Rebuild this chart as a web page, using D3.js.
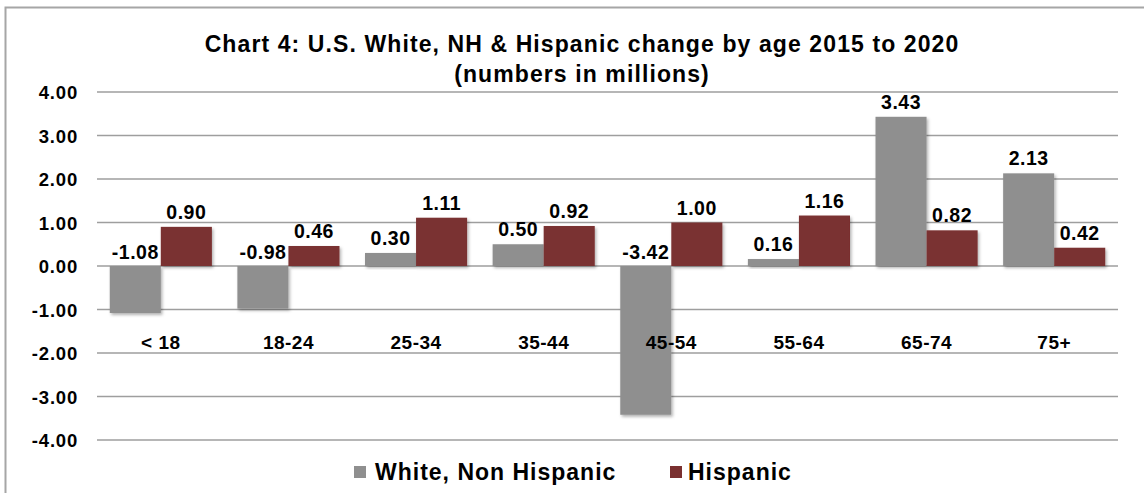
<!DOCTYPE html>
<html>
<head>
<meta charset="utf-8">
<script src="https://cdn.jsdelivr.net/npm/d3@7"></script>
<style>
  body { margin: 0; background: #fff; }
  text { font-family: Arial, "Liberation Sans", sans-serif; font-weight: bold; fill: #000; }
</style>
</head>
<body>
<svg id="chart" width="1144" height="493"></svg>
<script>
var categories = ["< 18", "18-24", "25-34", "35-44", "45-54", "55-64", "65-74", "75+"];
var whiteNH = [-1.08, -0.98, 0.30, 0.50, -3.42, 0.16, 3.43, 2.13];
var hispanic = [0.90, 0.46, 1.11, 0.92, 1.00, 1.16, 0.82, 0.42];
var seriesNames = ["White, Non Hispanic", "Hispanic"];
var seriesColors = ["#8f8f8f", "#7a3030"];
var yTicks = [4, 3, 2, 1, 0, -1, -2, -3, -4];

// hyphen instead of unicode minus, like the original
var fmt = function(v){ return d3.format(".2f")(v).replace("\u2212", "-"); };

var svg = d3.select("#chart");

// outer frame
svg.append("rect")
  .attr("x", 5.5).attr("y", 7.5)
  .attr("width", 1150).attr("height", 500)
  .attr("fill", "none").attr("stroke", "#a6a6a6").attr("stroke-width", 2);

// shadow filter for bars
var defs = svg.append("defs");
var f = defs.append("filter").attr("id", "shadow").attr("x", "-20%").attr("y", "-20%").attr("width", "150%").attr("height", "150%");
f.append("feDropShadow").attr("dx", 1.5).attr("dy", 2).attr("stdDeviation", 1.5).attr("flood-color", "#000").attr("flood-opacity", 0.3);

var y = d3.scaleLinear().domain([-4, 4]).range([440, 92]);
var x0 = d3.scaleBand().domain(categories).range([97, 1118]).paddingInner(0.2).paddingOuter(0.1);
var x1 = d3.scaleBand().domain([0, 1]).range([0, x0.bandwidth()]);

// title
svg.append("text").attr("x", 582).attr("y", 52).attr("text-anchor", "middle")
  .style("font-size", "23px").style("letter-spacing", "1.1px")
  .text("Chart 4: U.S. White, NH & Hispanic change by age 2015 to 2020");
svg.append("text").attr("x", 582).attr("y", 82).attr("text-anchor", "middle")
  .style("font-size", "23px").style("letter-spacing", "1.1px")
  .text("(numbers in millions)");

// gridlines
svg.append("g").selectAll("line").data(yTicks).enter().append("line")
  .attr("x1", 97).attr("x2", 1118)
  .attr("y1", function(d){ return y(d); }).attr("y2", function(d){ return y(d); })
  .attr("stroke", "#9e9e9e").attr("stroke-width", 1.5);

// y tick labels
svg.append("g").selectAll("text").data(yTicks).enter().append("text")
  .attr("x", 78).attr("y", function(d){ return y(d) + 7; })
  .attr("text-anchor", "end").style("font-size", "18.5px").style("letter-spacing", "0.8px")
  .text(fmt);

// bars
var rows = categories.map(function(c, i){ return [whiteNH[i], hispanic[i]]; });
var groups = svg.append("g").selectAll("g").data(rows).enter().append("g")
  .attr("transform", function(d, i){ return "translate(" + x0(categories[i]) + ",0)"; });

groups.selectAll("rect").data(function(d){ return d; }).enter().append("rect")
  .attr("x", function(d, j){ return x1(j); })
  .attr("y", function(d){ return y(Math.max(0, d)); })
  .attr("width", x1.bandwidth())
  .attr("height", function(d){ return Math.abs(y(d) - y(0)); })
  .attr("fill", function(d, j){ return seriesColors[j]; })
  .attr("filter", "url(#shadow)");

// value labels
groups.selectAll("text.val").data(function(d){ return d; }).enter().append("text")
  .attr("class", "val")
  .attr("x", function(d, j){ return x1(j) + x1.bandwidth() / 2; })
  .attr("y", function(d){ return d >= 0 ? y(d) - 8 : y(0) - 7; })
  .attr("text-anchor", "middle").style("font-size", "19.5px").style("letter-spacing", "0.5px")
  .text(fmt);

// category labels
svg.append("g").selectAll("text").data(categories).enter().append("text")
  .attr("x", function(d){ return x0(d) + x0.bandwidth() / 2; })
  .attr("y", 349).attr("text-anchor", "middle").style("font-size", "19px").style("letter-spacing", "0.5px")
  .text(function(d){ return d; });

// legend
var legendX = [354, 670];
var lg = svg.append("g").selectAll("g").data(seriesNames).enter().append("g")
  .attr("transform", function(d, i){ return "translate(" + legendX[i] + ",466)"; });
lg.append("rect").attr("width", 12).attr("height", 12)
  .attr("fill", function(d, i){ return seriesColors[i]; });
lg.append("text").attr("x", function(d, i){ return i === 0 ? 21 : 18; }).attr("y", 14)
  .style("font-size", "23px").style("letter-spacing", "1px")
  .text(function(d){ return d; });
</script>
</body>
</html>
